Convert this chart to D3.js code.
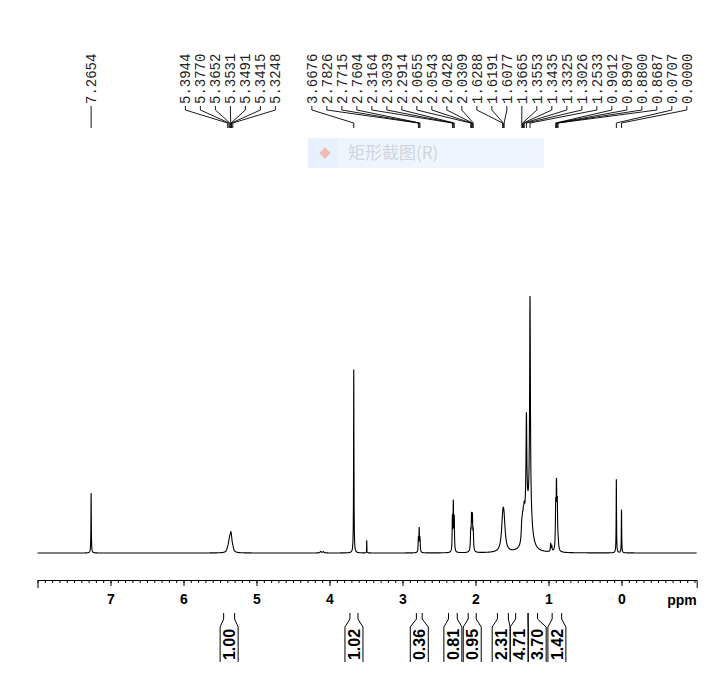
<!DOCTYPE html>
<html>
<head>
<meta charset="utf-8">
<script src="https://cdn.jsdelivr.net/npm/d3@7"></script>
<style>
  body { margin: 0; background: #fff; }
  .tick line, .domain { stroke: #000; }
  .maj text { font-family: "Liberation Sans", Arial, sans-serif; font-weight: bold; font-size: 14px; fill: #000; }
  .plabel { font-family: "Liberation Mono", "DejaVu Sans Mono", monospace; font-size: 14px; fill: #222; }
  .ilabel { font-family: "Liberation Sans", Arial, sans-serif; font-weight: bold; font-size: 16px; fill: #000; }
</style>
</head>
<body>
<script>
/* ------------------------------------------------------------------ */
// spectrum lines: shift (ppm), height, half width (ppm)
var peakPpm    = [7.2654, 5.3944, 5.3770, 5.3652, 5.3531, 5.3491, 5.3415, 5.3248, 4.1200, 4.0850,
                  3.6676, 3.4900, 2.7826, 2.7715, 2.7604, 2.3164, 2.3039, 2.2914,
                  2.0655, 2.0543, 2.0428, 2.0309, 1.6288, 1.6191, 1.6077,
                  1.3665, 1.3553, 1.3435, 1.3325, 1.3026, 1.3026, 1.2533, 1.2533,
                  0.9700, 0.9550, 0.9012, 0.8907, 0.8800, 0.8687, 0.0707, 0.0000];
var peakHeight = [23.5, 1.2, 2.2, 2.8, 2.8, 2.5, 2.2, 1.2, 0.6, 0.5,
                  72, 5, 5, 9, 5, 13, 18.5, 13,
                  7, 12.5, 12.5, 7, 6.5, 7.5, 6.5,
                  6, 6, 6, 6, 34, 15, 81, 15,
                  3, 2, 16, 23, 16, 3, 29, 17];
var peakWidth  = [0.003, 0.012, 0.012, 0.012, 0.012, 0.012, 0.012, 0.012, 0.01, 0.01,
                  0.003, 0.002, 0.004, 0.004, 0.004, 0.004, 0.004, 0.004,
                  0.005, 0.005, 0.005, 0.005, 0.02, 0.02, 0.02,
                  0.008, 0.008, 0.008, 0.008, 0.006, 0.03, 0.006, 0.03,
                  0.005, 0.005, 0.005, 0.005, 0.005, 0.008, 0.003, 0.003];

// peak picking labels
var peakLabels = ["7.2654",
                  "5.3944", "5.3770", "5.3652", "5.3531", "5.3491", "5.3415", "5.3248",
                  "3.6676", "2.7826", "2.7715", "2.7604", "2.3164", "2.3039", "2.2914",
                  "2.0655", "2.0543", "2.0428", "2.0309", "1.6288", "1.6191", "1.6077",
                  "1.3665", "1.3553", "1.3435", "1.3325", "1.3026", "1.2533",
                  "0.9012", "0.8907", "0.8800", "0.8687", "0.0707", "0.0000"];

// integrals
var integralFrom  = [5.45, 3.72, 2.81, 2.37, 2.10, 1.70, 1.45, 1.28, 0.95];
var integralTo    = [5.30, 3.61, 2.73, 2.25, 1.99, 1.55, 1.28, 1.15, 0.82];
var integralValue = ["1.00", "1.02", "0.36", "0.81", "0.95", "2.31", "4.71", "3.70", "1.42"];

var majorTicks = [7, 6, 5, 4, 3, 2, 1, 0];
var minorTicks = d3.range(-10, 81).map(function (d) { return d / 10; });
/* ------------------------------------------------------------------ */

var W = 715, H = 673;
var svg = d3.select("body").append("svg").attr("width", W).attr("height", H);

var x = d3.scaleLinear().domain([8.0, -1.03]).range([37.5, 696.7]);
var y = d3.scaleLinear().domain([0, 100]).range([553, 298]);

// ==========================================================
// spectrum (sum of lorentzian lines)
var grid = d3.range(8.0, -1.03, -0.0005);
var trace = grid.map(function (p) {
  var s = 0;
  for (var i = 0; i < peakPpm.length; i++) {
    var d = (p - peakPpm[i]) / peakWidth[i];
    s += peakHeight[i] / (1 + d * d);
  }
  return [p, s];
});

svg.append("path")
  .datum(trace)
  .attr("fill", "none")
  .attr("stroke", "#000")
  .attr("stroke-width", 1.1)
  .attr("d", d3.line().x(function (d) { return x(d[0]); }).y(function (d) { return y(d[1]); }));

// ==========================================================
// ppm axis
var axisY = 580;
svg.append("g")
  .attr("transform", "translate(0," + axisY + ")")
  .call(d3.axisBottom(x).tickValues(minorTicks).tickSize(3).tickSizeOuter(0).tickFormat(""))
  .select(".domain").remove();

svg.append("g")
  .attr("class", "maj")
  .attr("transform", "translate(0," + axisY + ")")
  .call(d3.axisBottom(x).tickValues(majorTicks).tickSize(6).tickSizeOuter(8).tickPadding(8).tickFormat(d3.format("d")));

svg.append("text")
  .attr("x", 682).attr("y", 605)
  .attr("text-anchor", "middle")
  .style("font-family", "Liberation Sans, Arial, sans-serif")
  .style("font-weight", "bold").style("font-size", "14px")
  .text("ppm");

// ==========================================================
// spread labels so that they do not overlap (block averaging)
function spread(ideal, gap) {
  var blocks = [];
  ideal.forEach(function (v) {
    blocks.push({ n: 1, sum: v });
    while (blocks.length > 1) {
      var b = blocks[blocks.length - 1], a = blocks[blocks.length - 2];
      var aEnd = a.sum / a.n + (a.n - 1) * gap / 2;
      var bStart = b.sum / b.n - (b.n - 1) * gap / 2;
      if (bStart - aEnd < gap) { a.n += b.n; a.sum += b.sum; blocks.pop(); }
      else break;
    }
  });
  var out = [];
  blocks.forEach(function (b) {
    var c = b.sum / b.n;
    for (var k = 0; k < b.n; k++) out.push(c + (k - (b.n - 1) / 2) * gap);
  });
  return out;
}

// ==========================================================
// peak labels on top
var peakX = peakLabels.map(function (s) { return x(+s); });
var labelX = spread(peakX, 15);
var textBottom = 104, hookEnd = 110, slantEnd = 123, stubEnd = 128;

var pl = svg.append("g");
pl.selectAll("text")
  .data(peakLabels)
  .enter()
  .append("text")
  .attr("class", "plabel")
  .attr("transform", function (d, i) { return "translate(" + labelX[i] + "," + textBottom + ") rotate(-90)"; })
  .attr("dy", "0.35em")
  .text(function (d) { return d; });

pl.selectAll("path")
  .data(peakLabels)
  .enter()
  .append("path")
  .attr("fill", "none")
  .attr("stroke", "#000")
  .attr("stroke-width", 0.9)
  .attr("d", function (d, i) {
    return "M" + labelX[i] + "," + (textBottom + 2) + "V" + hookEnd +
           "L" + peakX[i] + "," + slantEnd + "V" + stubEnd;
  });

// ==========================================================
// integrals under the axis
var intMid = integralFrom.map(function (f, i) { return (x(f) + x(integralTo[i])) / 2; });
var boxW = 18;
var boxX = spread(intMid, boxW);
var iTop = 613, iKnee = 619, iBox = 627, iBottom = 662;

var ig = svg.append("g");
integralValue.forEach(function (v, i) {
  var l = x(integralFrom[i]), r = x(integralTo[i]);
  var bl = boxX[i] - boxW / 2, br = boxX[i] + boxW / 2;
  ig.append("path")
    .attr("fill", "none").attr("stroke", "#000").attr("stroke-width", 1)
    .attr("d", "M" + l + "," + iTop + "V" + iKnee + "L" + bl + "," + iBox + "V" + iBottom +
               "M" + r + "," + iTop + "V" + iKnee + "L" + br + "," + iBox + "V" + iBottom);
  ig.append("text")
    .attr("class", "ilabel")
    .attr("transform", "translate(" + boxX[i] + "," + ((iBox + iBottom) / 2) + ") rotate(-90)")
    .attr("text-anchor", "middle")
    .attr("dy", "0.36em")
    .text(v);
});

// ==========================================================
// faint screenshot-tool tag left over in the picture
var tag = svg.append("g").attr("transform", "translate(308,138)");
tag.append("rect").attr("width", 236).attr("height", 30).attr("fill", "#eef5fd");
tag.append("rect").attr("width", 30).attr("height", 30).attr("fill", "#e8f1fb");
tag.append("rect").attr("x", -4).attr("y", -4).attr("width", 8).attr("height", 8)
  .attr("transform", "translate(17,15) rotate(45)").attr("fill", "#f3b9b3");
tag.append("text")
  .attr("x", 40).attr("y", 21)
  .style("font-family", "Noto Sans CJK SC, sans-serif").style("font-size", "17px")
  .attr("fill", "#cdd5de")
  .text("矩形截图(R)");
</script>
</body>
</html>
